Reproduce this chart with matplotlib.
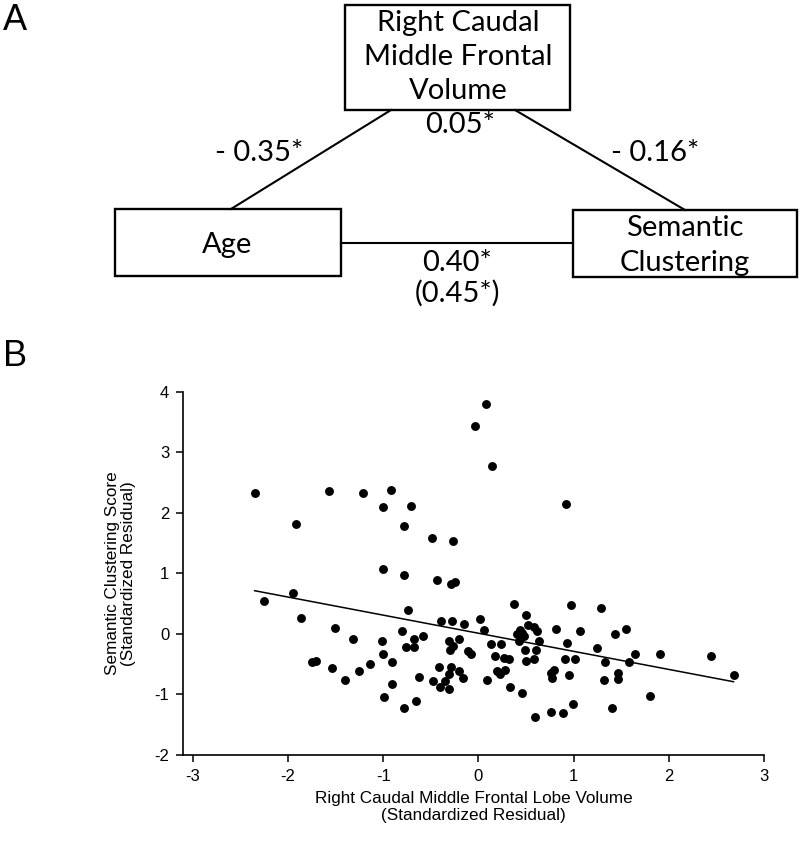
import numpy as np
import matplotlib.pyplot as plt
from matplotlib.patches import Rectangle

plt.rcParams['axes.unicode_minus'] = False

# ---------------------------------------------------------
# Panel B data: standardized residuals
# ---------------------------------------------------------
volume_resid = [
    0.08, -0.04, 0.14, -2.35, -1.57, -1.21, -0.92, -1.00, -0.71, -1.92,
    -0.78, -0.49, -0.27, 0.92, -1.00, -0.78, -0.43, -0.29, -0.25, -1.95,
    -2.25, 0.37, -1.86, -0.74, -0.39, -0.28, -0.15, 0.02, 0.06, -1.51,
    -0.80, -1.32, -1.01, -0.68, -0.58, -0.76, -0.68, -0.31, -0.20, -0.27,
    -0.30, -0.11, -0.08, 0.13, 0.24, -1.00, -0.91, -1.75, -1.71, -1.54,
    -1.14, -1.25, -1.40, -0.91, -0.99, -0.66, -0.78, -0.62, -0.41, -0.29,
    -0.31, -0.20, -0.16, -0.48, -0.40, -0.35, -0.31, 0.09, 0.17, 0.27,
    0.32, 0.20, 0.28, 0.23, 0.33, 0.46, 0.50, 0.41, 0.44, 0.48,
    0.50, 0.52, 0.49, 0.43, 0.97, 1.29, 0.58, 0.62, 0.46, 0.82,
    1.07, 1.55, 1.44, 0.64, 0.93, 1.25, 0.61, 1.64, 1.91, 2.44,
    0.58, 0.91, 1.02, 1.33, 1.58, 2.68, 0.76, 0.79, 0.77, 0.95,
    1.47, 1.47, 1.32, 1.80, 0.99, 1.40, 0.60, 0.76, 0.89,
]
clustering_resid = [
    3.79, 3.44, 2.78, 2.33, 2.36, 2.33, 2.38, 2.10, 2.12, 1.81,
    1.79, 1.58, 1.53, 2.15, 1.07, 0.97, 0.89, 0.83, 0.86, 0.67,
    0.55, 0.50, 0.27, 0.39, 0.21, 0.21, 0.17, 0.24, 0.07, 0.10,
    0.04, -0.08, -0.11, -0.08, -0.04, -0.22, -0.22, -0.12, -0.09, -0.20,
    -0.26, -0.29, -0.34, -0.17, -0.17, -0.33, -0.47, -0.47, -0.44, -0.56,
    -0.49, -0.62, -0.77, -0.82, -1.05, -1.11, -1.23, -0.71, -0.54, -0.54,
    -0.67, -0.61, -0.73, -0.78, -0.88, -0.78, -0.91, -0.77, -0.37, -0.40,
    -0.42, -0.62, -0.59, -0.66, -0.87, -0.97, -0.44, -0.01, 0.07, -0.04,
    0.32, 0.15, -0.26, -0.12, 0.48, 0.43, 0.11, 0.05, 0.02, 0.08,
    0.04, 0.08, -0.01, -0.11, -0.15, -0.23, -0.27, -0.33, -0.33, -0.37,
    -0.41, -0.41, -0.41, -0.46, -0.46, -0.68, -0.64, -0.60, -0.73, -0.68,
    -0.64, -0.74, -0.76, -1.03, -1.15, -1.22, -1.38, -1.29, -1.31,
]
x_ticks = [-3, -2, -1, 0, 1, 2, 3]
y_ticks = [-2, -1, 0, 1, 2, 3, 4]

# ---------------------------------------------------------
# Panel A: mediation path coefficients
# ---------------------------------------------------------
path_age_vol = "- 0.35*"
path_vol_sem = "- 0.16*"
indirect = "0.05*"
direct = "0.40*"
total = "(0.45*)"

fig = plt.figure(figsize=(8.0, 8.46), dpi=100)
fig.patch.set_facecolor('white')

# diagram drawn in pixel coordinates of the whole figure
diag = fig.add_axes([0, 0, 1, 1])
diag.set_xlim(0, 800)
diag.set_ylim(846, 0)
diag.axis('off')

box_font = dict(family='Lato', fontsize=21, ha='center', va='center')

boxes = [(345, 5, 225, 105), (115, 209, 226, 67), (573, 210, 224, 67)]
for bx, by, bw, bh in boxes:
    diag.add_patch(Rectangle((bx, by), bw, bh, fill=False, lw=1.7, ec='black'))

diag.text(458, 23, "Right Caudal", **box_font)
diag.text(458, 57, "Middle Frontal", **box_font)
diag.text(458, 91, "Volume", **box_font)
diag.text(227, 245, "Age", **box_font)
diag.text(685, 228, "Semantic", **box_font)
diag.text(685, 263, "Clustering", **box_font)

diag.plot([391, 231], [110, 209], color='black', lw=1.5)
diag.plot([515, 685], [110, 210], color='black', lw=1.5)
diag.plot([341, 573], [243, 243], color='black', lw=1.5)

diag.text(259, 153, path_age_vol, **box_font)
diag.text(460, 125, indirect, **box_font)
diag.text(655, 153, path_vol_sem, **box_font)
diag.text(457, 263, direct, **box_font)
diag.text(457, 293, total, **box_font)

diag.text(3, 20, "A", family='Liberation Sans', fontsize=26, va='center')
diag.text(3, 357, "B", family='Liberation Sans', fontsize=26, va='center')

# ---------------------------------------------------------
# Panel B: scatter with least-squares line
# ---------------------------------------------------------
ax = fig.add_axes([0.229, 0.1076, 0.726, 0.4294])
ax.patch.set_alpha(0)
x = np.array(volume_resid)
y = np.array(clustering_resid)
ax.plot(x, y, 'o', color='black', markersize=6.4, markeredgewidth=0)

slope, intercept = np.polyfit(x, y, 1)
xs = np.array([x.min(), x.max()])
ax.plot(xs, intercept + slope * xs, color='black', lw=1.1)

ax.set_xlim(-3.1, 3.0)
ax.set_ylim(-2, 4)
ax.set_xticks(x_ticks)
ax.set_yticks(y_ticks)
ax.spines['top'].set_visible(False)
ax.spines['right'].set_visible(False)
for s in ['left', 'bottom']:
    ax.spines[s].set_linewidth(1.2)
ax.tick_params(direction='out', length=5, width=1.1, labelsize=12, pad=5)
for lab in ax.get_xticklabels() + ax.get_yticklabels():
    lab.set_family('Liberation Sans')

ax.set_xlabel("Right Caudal Middle Frontal Lobe Volume\n(Standardized Residual)",
              family='Liberation Sans', fontsize=12.3, labelpad=5, linespacing=1.15)
ax.set_ylabel("Semantic Clustering Score\n(Standardized Residual)",
              family='Liberation Sans', fontsize=12.3, labelpad=13, linespacing=1.1)

fig.savefig('out.png', dpi=100)
